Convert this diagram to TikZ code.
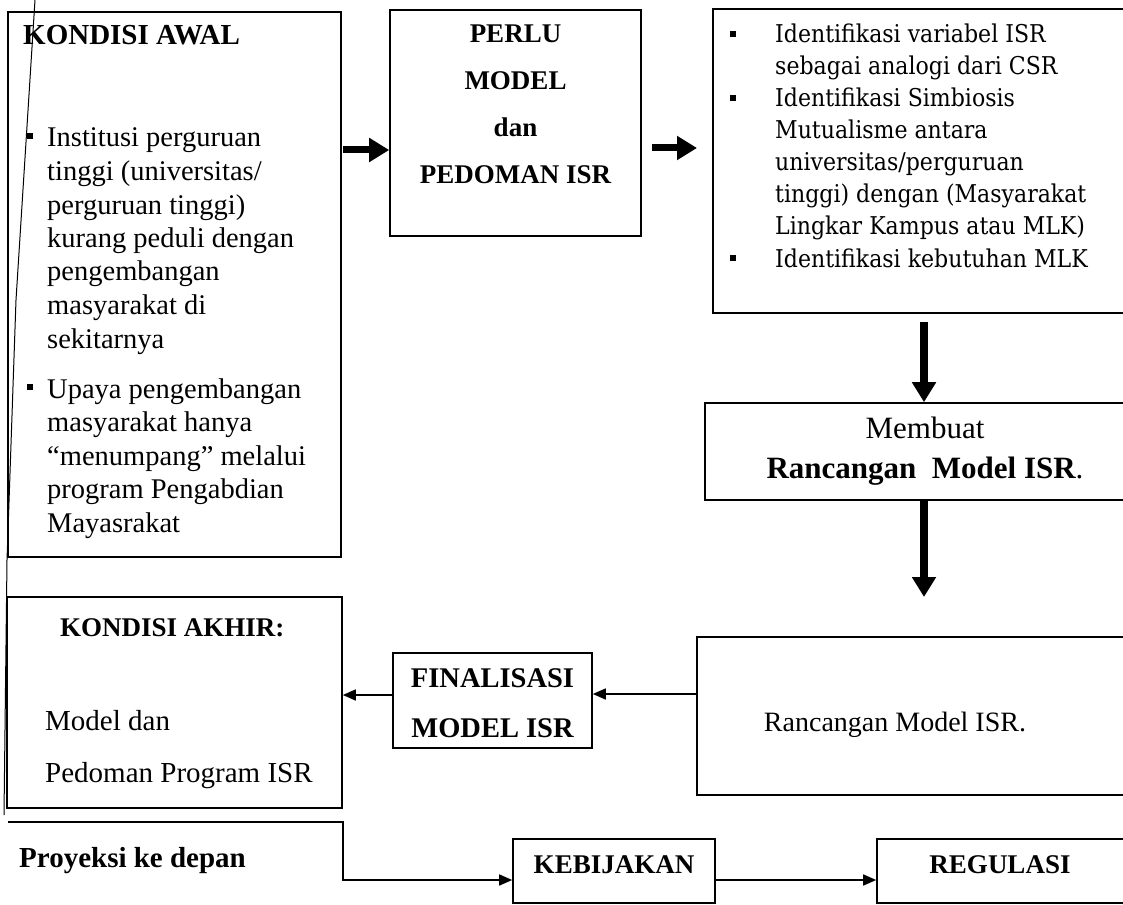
\documentclass[tikz,border=0pt]{standalone}
\usepackage{fontspec}
\setmainfont{Liberation Serif}
\newfontfamily\cam{DejaVu Serif}[FakeStretch=0.9]
\usetikzlibrary{arrows.meta}
\newcommand{\tbox}[3]{\parbox[t]{#1}{#2#3}}
\begin{document}
\begin{tikzpicture}[x=1pt,y=-1pt,
  box/.style={draw, line width=1.6pt, inner sep=0pt},
  txt/.style={inner sep=0pt, anchor=base west},
  ctxt/.style={inner sep=0pt, anchor=base},
  fat/.style={line width=7pt, -{Triangle[width=23pt,length=20pt]}},
  thin/.style={line width=1.6pt, -{Triangle[width=11pt,length=13pt]}},
  bul/.style={fill=black}
]
\useasboundingbox (0,0) rectangle (1123,904);
\clip (0,0) rectangle (1123,904);

% boxes
\node[box, minimum width=333pt, minimum height=545pt] (awal) at (174.5,284.5) {};
\node[box, minimum width=251pt, minimum height=226pt] (perlu) at (515.5,123) {};
\node[box, minimum width=417pt, minimum height=304pt] (ident) at (921.5,161) {};
\node[box, minimum width=425pt, minimum height=97pt] (membuat) at (917.5,451.5) {};
\node[box, minimum width=433pt, minimum height=158pt] (ranc) at (913.5,716) {};
\node[box, minimum width=199pt, minimum height=95pt] (final) at (492.5,700.5) {};
\node[box, minimum width=335pt, minimum height=211pt] (akhir) at (174.5,702.5) {};
\node[box, minimum width=202pt, minimum height=64pt] (kebij) at (614,871) {};
\node[box, minimum width=253pt, minimum height=64pt] (regul) at (1003.5,871) {};

% KONDISI AWAL text
\node[txt, font=\bfseries\fontsize{29}{30}\selectfont] (tawal) at (23,45) {KONDISI AWAL};
\node[txt, font=\fontsize{28.5}{33.5}\selectfont] (awal1) at (47,147)
  {\tbox{290pt}{\raggedright}{Institusi perguruan\\tinggi (universitas/\\perguruan tinggi)\\kurang peduli dengan\\pengembangan\\masyarakat di\\sekitarnya}};
\node[txt, font=\fontsize{28.5}{33.5}\selectfont] (awal2) at (47,398)
  {\tbox{290pt}{\raggedright}{Upaya pengembangan\\masyarakat hanya\\“menumpang” melalui\\program Pengabdian\\Mayasrakat}};
\fill[bul] (27,133) rectangle (33,139);
\fill[bul] (27,384) rectangle (33,390);

% PERLU box text
\node[ctxt, font=\bfseries\fontsize{27}{47}\selectfont] (tperlu) at (515.5,43)
  {\tbox{240pt}{\centering}{PERLU\\MODEL\\dan\\PEDOMAN ISR}};

% identification box
\node[txt, font=\cam\fontsize{24.5}{32}\selectfont] (id1) at (775,43)
  {\tbox{345pt}{\raggedright}{Identifikasi variabel ISR\\sebagai analogi dari CSR}};
\node[txt, font=\cam\fontsize{24.5}{32}\selectfont] (id2) at (775,107)
  {\tbox{345pt}{\raggedright}{Identifikasi Simbiosis\\Mutualisme antara\\universitas/perguruan\\tinggi) dengan (Masyarakat\\Lingkar Kampus atau MLK)}};
\node[txt, font=\cam\fontsize{24.5}{32}\selectfont] (id3) at (775,267)
  {\tbox{345pt}{\raggedright}{Identifikasi kebutuhan MLK}};
\fill[bul] (730,31) rectangle (736,37);
\fill[bul] (730,95) rectangle (736,101);
\fill[bul] (730,255) rectangle (736,261);

% Membuat box text
\node[ctxt, font=\fontsize{31}{40}\selectfont] (tmemb) at (925,438)
  {\tbox{410pt}{\centering}{Membuat\\\textbf{Rancangan\ \ Model ISR}.}};

% Rancangan box text
\node[ctxt, font=\fontsize{28}{33}\selectfont] (tranc) at (895,731) {Rancangan Model ISR.};

% Finalisasi text
\node[ctxt, font=\bfseries\fontsize{28.5}{50}\selectfont] (tfinal) at (492.5,687)
  {\tbox{195pt}{\centering}{FINALISASI\\MODEL ISR}};

% Kondisi akhir text
\node[txt, font=\bfseries\fontsize{27}{30}\selectfont] (takhir) at (60,636) {KONDISI AKHIR:};
\node[txt, font=\fontsize{29}{52}\selectfont] (takhir2) at (45,730)
  {\tbox{300pt}{\raggedright}{Model dan\\Pedoman Program ISR}};

% bottom row
\node[txt, font=\bfseries\fontsize{29}{30}\selectfont] (proy) at (19,867) {Proyeksi ke depan};
\node[ctxt, font=\bfseries\fontsize{27}{30}\selectfont] (tkebij) at (614,873) {KEBIJAKAN};
\node[ctxt, font=\bfseries\fontsize{27}{30}\selectfont] (tregul) at (1000,873) {REGULASI};

% scan line at the left
\draw[line width=1pt] (35,0) -- (16,300) -- (7,560) -- (4,815);

% connectors
\coordinate (a1s) at (343,150);
\draw[fat] (a1s) -- (a1s -| perlu.west);
\coordinate (a2s) at (652,148);
\coordinate (a2e) at (697,148);
\draw[fat] (a2s) -- (a2e);
\coordinate (v1s) at (924,322);
\draw[fat, line width=8pt] (v1s) -- (v1s |- membuat.north);
\coordinate (v2e) at (924,597);
\draw[fat, line width=8pt] (v2e |- membuat.south) -- (v2e);
\draw[thin] (ranc.west |- 0,694) -- (final.east |- 0,694);
\draw[thin] (final.west |- 0,695) -- (akhir.east |- 0,695);
\coordinate (hk) at (343,822);
\draw[thin] (8,822) -- (hk) -- (343,880) -- (kebij.west |- 0,880);
\draw[thin] (kebij.east |- 0,880) -- (regul.west |- 0,880);
\end{tikzpicture}
\end{document}
